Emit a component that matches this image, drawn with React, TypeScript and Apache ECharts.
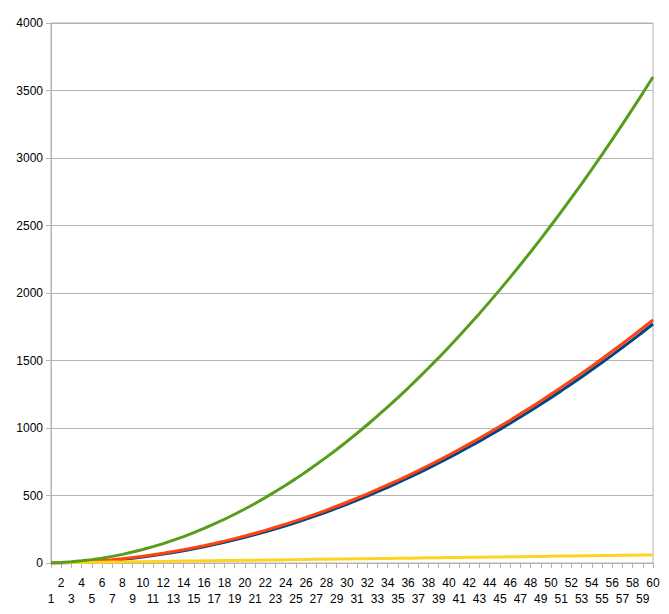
import React, { useEffect, useRef } from "react";
import * as echarts from "echarts";

const categories = [
  "1","2","3","4","5","6","7","8","9","10","11","12","13","14","15","16","17","18","19","20",
  "21","22","23","24","25","26","27","28","29","30","31","32","33","34","35","36","37","38","39","40",
  "41","42","43","44","45","46","47","48","49","50","51","52","53","54","55","56","57","58","59","60",
];

const blueSeries = [
  0, 1, 3, 6, 10, 15, 21, 28, 36, 45, 55, 66, 78, 91, 105, 120, 136, 153, 171, 190,
  210, 231, 253, 276, 300, 325, 351, 378, 406, 435, 465, 496, 528, 561, 595, 630, 666, 703, 741, 780,
  820, 861, 903, 946, 990, 1035, 1081, 1128, 1176, 1225, 1275, 1326, 1378, 1431, 1485, 1540, 1596, 1653, 1711, 1770,
];

const redSeries = [
  0.5, 2, 4.5, 8, 12.5, 18, 24.5, 32, 40.5, 50, 60.5, 72, 84.5, 98, 112.5, 128, 144.5, 162, 180.5, 200,
  220.5, 242, 264.5, 288, 312.5, 338, 364.5, 392, 420.5, 450, 480.5, 512, 544.5, 578, 612.5, 648, 684.5, 722, 760.5, 800,
  840.5, 882, 924.5, 968, 1012.5, 1058, 1104.5, 1152, 1200.5, 1250, 1300.5, 1352, 1404.5, 1458, 1512.5, 1568, 1624.5, 1682, 1740.5, 1800,
];

const yellowSeries = [
  1, 2, 3, 4, 5, 6, 7, 8, 9, 10, 11, 12, 13, 14, 15, 16, 17, 18, 19, 20,
  21, 22, 23, 24, 25, 26, 27, 28, 29, 30, 31, 32, 33, 34, 35, 36, 37, 38, 39, 40,
  41, 42, 43, 44, 45, 46, 47, 48, 49, 50, 51, 52, 53, 54, 55, 56, 57, 58, 59, 60,
];

const greenSeries = [
  1, 4, 9, 16, 25, 36, 49, 64, 81, 100, 121, 144, 169, 196, 225, 256, 289, 324, 361, 400,
  441, 484, 529, 576, 625, 676, 729, 784, 841, 900, 961, 1024, 1089, 1156, 1225, 1296, 1369, 1444, 1521, 1600,
  1681, 1764, 1849, 1936, 2025, 2116, 2209, 2304, 2401, 2500, 2601, 2704, 2809, 2916, 3025, 3136, 3249, 3364, 3481, 3600,
];

export default function App() {
  const ref = useRef<HTMLDivElement>(null);
  useEffect(() => {
    document.body.style.margin = "0";
    if (!ref.current) return;
    const chart = echarts.init(ref.current, undefined, { renderer: "svg" });
    const font = "'Liberation Sans', Arial, sans-serif";
    const mk = (name: string, data: number[], color: string) => ({
      name,
      type: "line",
      data,
      showSymbol: false,
      symbol: "none",
      smooth: false,
      lineStyle: { color, width: 3 },
      itemStyle: { color },
    });
    chart.setOption({
      animation: false,
      backgroundColor: "#ffffff",
      grid: {
        left: 51,
        right: 16,
        top: 23,
        bottom: 51,
        show: true,
        borderColor: "#b3b3b3",
        borderWidth: 1,
        backgroundColor: "transparent",
      },
      xAxis: {
        type: "category",
        data: categories,
        boundaryGap: false,
        axisLine: { lineStyle: { color: "#b3b3b3", width: 1 } },
        axisTick: { show: true, interval: 0, length: 5, lineStyle: { color: "#b3b3b3" } },
        splitLine: { show: false },
        axisLabel: {
          interval: 0,
          margin: 12,
          color: "#000000",
          fontFamily: font,
          fontSize: 12,
          lineHeight: 16,
          formatter: (v: string, i: number) => (i % 2 === 0 ? "\n" + v : v),
        },
      },
      yAxis: {
        type: "value",
        min: 0,
        max: 4000,
        interval: 500,
        axisLine: { show: true, lineStyle: { color: "#b3b3b3", width: 1 } },
        axisTick: { show: true, length: 5, lineStyle: { color: "#b3b3b3" } },
        splitLine: { show: true, lineStyle: { color: "#b3b3b3", width: 1 } },
        axisLabel: {
          margin: 8,
          color: "#000000",
          fontFamily: font,
          fontSize: 12,
          formatter: (v: number) => String(v),
        },
      },
      series: [
        mk("Series 1", blueSeries, "#004586"),
        mk("Series 2", redSeries, "#ff420e"),
        mk("Series 3", yellowSeries, "#ffd320"),
        mk("Series 4", greenSeries, "#579d1c"),
      ],
    });
    return () => chart.dispose();
  }, []);
  return <div ref={ref} style={{ width: 669, height: 614 }} />;
}
